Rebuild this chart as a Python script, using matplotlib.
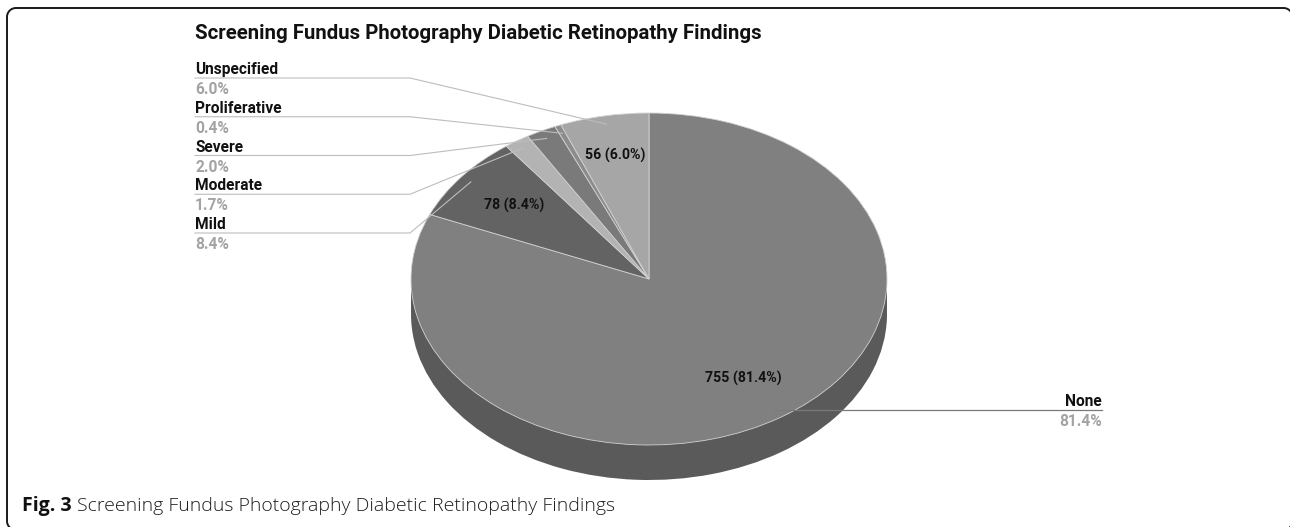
import matplotlib
matplotlib.use('Agg')
import matplotlib.pyplot as plt
import matplotlib.colors as mcolors
import numpy as np
from matplotlib.patches import Rectangle

# ---- data ----
categories = ['None', 'Mild', 'Moderate', 'Severe', 'Proliferative', 'Unspecified']
counts = [755, 78, 16, 19, 4, 56]
top_colors = ['#808080', '#636363', '#b3b3b3', '#7a7a7a', '#8c8c8c', '#a6a6a6']
title = 'Screening Fundus Photography Diabetic Retinopathy Findings'
caption_bold = 'Fig. 3'
caption_text = 'Screening Fundus Photography Diabetic Retinopathy Findings'

W, H = 1290, 527
fig = plt.figure(figsize=(W / 100, H / 100), dpi=100)
fig.patch.set_facecolor('white')
ov = fig.add_axes([0, 0, 1, 1])
ov.set_xlim(0, W)
ov.set_ylim(H, 0)
ov.axis('off')
ov.set_zorder(2)

CHART_FONT = ['Roboto', 'DejaVu Sans']

# ---- pie geometry (layout) ----
cx, cy, rx, ry, depth = 649, 279, 238, 166, 35
dd = depth / ry
pax = fig.add_axes([(cx - rx) / W, 1 - (cy + ry + depth) / H, 2 * rx / W, (2 * ry + depth) / H])
pax.set_zorder(1)


def darken(c, k=0.7):
    r, g, b = mcolors.to_rgb(c)
    return (r * k, g * k, b * k)


side_colors = [darken(c) for c in top_colors]
pax.pie(counts, colors=side_colors, startangle=90, counterclock=False,
        center=(0, -dd), radius=1, wedgeprops=dict(linewidth=0))
pax.add_patch(Rectangle((-1, -dd), 2, dd, facecolor=side_colors[0], linewidth=0))
pax.pie(counts, colors=top_colors, startangle=90, counterclock=False,
        radius=1, wedgeprops=dict(edgecolor='#d2d2d2', linewidth=0.6))
pax.set_aspect('auto')
pax.set_xlim(-1, 1)
pax.set_ylim(-1 - dd, 1)
pax.axis('off')

vals = np.array(counts, dtype=float)
frac = vals / vals.sum()
cum = np.cumsum(frac)
mid = cum - frac / 2
phi = np.deg2rad(90 - 360 * mid)


def to_ov(f, i):
    p = pax.transData.transform((f * np.cos(phi[i]), f * np.sin(phi[i])))
    return ov.transData.inverted().transform(p)


# inner labels for large slices
for i, (n, fr) in enumerate(zip(counts, frac)):
    if fr >= 0.05:
        f = 0.72 if fr > 0.07 else 0.76
        x, y = to_ov(f, i)
        ov.text(x, y, f'{n} ({fr * 100:.1f}%)', ha='center', va='center',
                fontsize=10.2, fontweight='bold', color='#111111', family=CHART_FONT, zorder=3)

# left labels (small slices, listed top to bottom)
left_order = [5, 4, 3, 2, 1]
lx, elbow = 195, 410
base0, step = 74, 38.75
LFS = 11.2
for k, i in enumerate(left_order):
    yb = base0 + k * step
    yl = yb + 4
    ov.text(lx, yb, categories[i], ha='left', va='baseline', fontsize=LFS,
            fontweight='bold', color='#111111', family=CHART_FONT, zorder=3)
    ov.text(lx, yb + 20, f'{frac[i] * 100:.1f}%', ha='left', va='baseline', fontsize=LFS,
            fontweight='bold', color='#a3a3a3', family=CHART_FONT, zorder=3)
    px, py = to_ov(0.95, i)
    ov.plot([lx, elbow, px], [yl, yl, py], color='#bdbdbd', lw=0.8, zorder=3)

# right label (None)
rxl = 1102
yb = 406
ov.text(rxl, yb, categories[0], ha='right', va='baseline', fontsize=LFS,
        fontweight='bold', color='#111111', family=CHART_FONT, zorder=3)
ov.text(rxl, yb + 20, f'{frac[0] * 100:.1f}%', ha='right', va='baseline', fontsize=LFS,
        fontweight='bold', color='#a3a3a3', family=CHART_FONT, zorder=3)
px, py = to_ov(0.95, 0)
ov.plot([px, rxl], [py, py], color='#7a7a7a', lw=0.9, zorder=3)

# title
ov.text(195, 39, title, ha='left', va='baseline', fontsize=14.7, fontweight='bold',
        color='#111111', family=CHART_FONT, zorder=3)

# caption
CAP_FONT = ['Open Sans', 'DejaVu Sans']
CFS = 14
cap_y = 511
t1 = ov.text(22, cap_y, caption_bold, ha='left', va='baseline', fontsize=CFS,
             fontweight='bold', color='#111111', family=CAP_FONT, zorder=3)
fig.canvas.draw()
bb = t1.get_window_extent(fig.canvas.get_renderer())
x_end = ov.transData.inverted().transform((bb.x1, bb.y0))[0]
ov.text(x_end + 5, cap_y, caption_text, ha='left', va='baseline', fontsize=CFS,
        fontweight='light', color='#1e1e1e', family=CAP_FONT, zorder=3)

# frame (rounded box, right and bottom edges run off the image)
fl, ft, fr_, fb, rad = 7, 8, 1292.5, 530, 9
t = np.linspace(0, np.pi / 2, 20)
xs, ys = [], []
# bottom-left corner, then up the left edge
xs += list(fl + rad - rad * np.sin(t))
ys += list(fb - rad + rad * np.cos(t))
# top-left corner
xs += list(fl + rad - rad * np.cos(t))
ys += list(ft + rad - rad * np.sin(t))
# top-right corner
xs += list(fr_ - rad + rad * np.sin(t))
ys += list(ft + rad - rad * np.cos(t))
# right edge and bottom-right corner
xs += list(fr_ - rad + rad * np.cos(t))
ys += list(fb - rad + rad * np.sin(t))
ov.plot(xs, ys, color='#1a1a1a', lw=1.4, zorder=4, solid_capstyle='butt')

fig.savefig('out.png', dpi=100, facecolor='white')
